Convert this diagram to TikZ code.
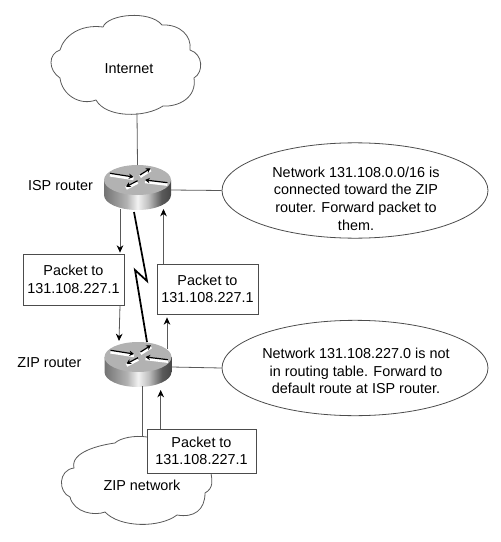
\documentclass[tikz,border=0pt]{standalone}
\usepackage{fontspec}
\setmainfont{Liberation Sans}
\usetikzlibrary{arrows.meta,calc,shapes.geometric}
\pgfdeclarehorizontalshading{routerside}{100bp}{color(0bp)=(black!55); color(25bp)=(black!55); color(42bp)=(black!30); color(50bp)=(black!5); color(58bp)=(black!25); color(68bp)=(black!65); color(75bp)=(black!72); color(100bp)=(black!72)}
\tikzset{
 router/.pic={
  \path[shading=routerside] (-33.5,0) -- (-33.5,15) arc[start angle=180,end angle=0,x radius=33.5,y radius=15] -- (33.5,0) -- cycle;
  \fill[black!30] (0,0) ellipse[x radius=33.5,y radius=15];
  \foreach \ax/\ay/\bx/\by in {-27.5/-6.7/-4/-3, 2.5/-5/13/-11.7, 30/2.7/7.5/0, 0/0.7/-11.5/6.7} {
   \draw[white,line width=2.6pt] (\ax,\ay+1.5) -- (\bx,\by+1.5);
   \draw[black,line width=0.9pt,-{Stealth[length=3.5pt,width=4pt]}] (\ax,\ay) -- (\bx,\by);
  }
  \coordinate (-top) at (0,-15);
  \coordinate (-east) at (33.5,10);
 },
 every node/.style={font=\fontsize{10.8}{13.2}\selectfont,align=center},
 pkt/.style={draw=black!70,fill=white,line width=0.6pt,inner sep=0pt},
 note/.style={draw=black!70,ellipse,line width=0.6pt,inner sep=0pt,minimum width=199.5pt,minimum height=71.5pt},
 cloudline/.style={draw=black!65,line width=0.6pt},
 link/.style={draw=black!65,line width=0.6pt},
 flow/.style={link,-{Stealth[length=5.5pt,width=5pt,black]}},
 wan/.style={draw=black,line width=1.3pt}
}
\begin{document}
\begin{tikzpicture}[x=0.75pt,y=-0.75pt]
\useasboundingbox (0,0) rectangle (500,542);
% clouds
\draw[cloudline] (60,50) .. controls (64,36) and (80,24) .. (103,27)
 .. controls (108,14) and (150,10) .. (162,25)
 .. controls (180,24) and (192,36) .. (190,50)
 .. controls (203,54) and (204,72) .. (194,78)
 .. controls (197,98) and (178,107) .. (163,106)
 .. controls (145,118) and (106,118) .. (96,100)
 .. controls (80,106) and (62,95) .. (60,78)
 .. controls (48,70) and (48,54) .. cycle;
\draw[cloudline] (147,437) .. controls (135,435) and (120,438) .. (115,443)
 .. controls (100,445) and (70,452) .. (74,468)
 .. controls (58,470) and (58,492) .. (70,497)
 .. controls (74,513) and (95,516) .. (105,512)
 .. controls (120,528) and (160,528) .. (177,515)
 .. controls (194,518) and (205,510) .. (205,493)
 .. controls (214,488) and (212,480) .. (211,473);
\node (inet) at (129,69) {Internet};
\node (zipnet) at (142,485) {ZIP network};
% routers
\pic (isp) at (137.5,180) {router};
\pic (zip) at (138,357) {router};
\node (isplabel) at (60.5,186) {ISP router};
\node (ziplabel) at (49.5,363) {ZIP router};
% packet boxes
\node[pkt,minimum width=75.75pt,minimum height=38.25pt] (pktl) at (73.5,279.5) {Packet to\\131.108.227.1};
\node[pkt,minimum width=75.75pt,minimum height=37.5pt] (pktr) at (207.5,289) {Packet to\\131.108.227.1};
\node[pkt,minimum width=81.75pt,minimum height=33pt] (pktz) at (201.5,451) {Packet to\\131.108.227.1};
% notes
\node[note] (ispnote) at (355,190.5) {};
\node[note] (zipnote) at (355,368) {};
\node (isptext) at (356,198.5) {Network 131.108.0.0/16 is\\connected toward the ZIP\\router. Forward packet to\\them.};
\node (ziptext) at (356,371) {Network 131.108.227.0 is not\\in routing table. Forward to\\default route at ISP router.};
% free ends of the connectors
\coordinate (inetfoot) at (137,113);
\coordinate (zipfoot) at (142,437);
\coordinate (zipbase) at (142,386);
\coordinate (ispdown) at (120,209);
\coordinate (zipin) at (119,341);
\coordinate (ispin) at (163.5,209);
\coordinate (zipout) at (167,349);
\coordinate (zipunder) at (160.7,390);
\coordinate (wanisp) at (134,212);
\coordinate (wanzip) at (147,342);
% connectors
\draw[link] (inetfoot) -- (isp-top);
\draw[link] (isp-east) -- (ispnote.west);
\draw[link] (zip-east) -- (zipnote.west);
\draw[link] (zipbase) -- (zipfoot);
\draw[flow] (ispdown) -- ($(ispdown |- pktl.north)+(0,-1)$);
\draw[flow] (ispdown |- pktl.south) -- (zipin);
\draw[flow] (ispin |- pktr.north) -- (ispin);
\draw[flow] (zipout) -- ($(zipout |- pktr.south)+(0,3)$);
\draw[flow] (zipunder |- pktz.north) -- (zipunder);
\draw[wan] (wanisp) -- (147,281) -- (135,270) -- (wanzip);
\end{tikzpicture}
\end{document}
